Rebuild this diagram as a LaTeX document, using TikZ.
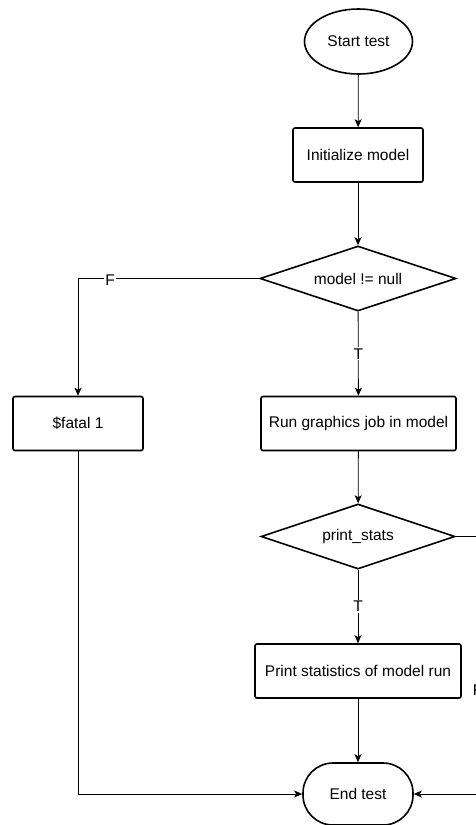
\documentclass[tikz,border=0pt]{standalone}
\usepackage{fontspec}
\setmainfont{Liberation Sans}
\usetikzlibrary{shapes.geometric,arrows.meta}
\begin{document}
\begin{tikzpicture}[x=1pt,y=-1pt,
  every node/.style={font=\fontsize{15.5}{18}\selectfont, text=black},
  procbox/.style={draw, line width=1.6pt, rounded corners=2pt, inner sep=0pt, minimum height=54pt},
  decision/.style={draw, diamond, aspect=3, line width=1.6pt, inner sep=0pt, minimum width=196pt, minimum height=65pt},
  terminal/.style={draw, ellipse, line width=1.6pt, inner sep=0pt},
  flow/.style={draw, line width=0.8pt, -{Stealth[length=8pt,width=7pt,inset=2pt]}},
  lbl/.style={fill=white, inner sep=1pt}
]
\useasboundingbox (0,0) rectangle (476,825);
\clip (0,0) rectangle (476,825);

\node[terminal, minimum width=108pt, minimum height=65pt] (start) at (358.5,41.5) {Start test};
\node[procbox, minimum width=130pt] (init) at (358,155) {Initialize model};
\node[decision] (d1) at (358,278.5) {model != null};
\node[procbox, minimum width=130pt] (fatal) at (78,423.5) {\$fatal 1};
\node[procbox, minimum width=195pt] (run) at (358.5,423.5) {Run graphics job in model};
\node[decision, minimum width=194pt] (d2) at (358,536.5) {print\_stats};
\node[procbox, minimum width=206pt] (print) at (358,671) {Print statistics of model run};
\node[draw, line width=1.6pt, rounded corners=30pt, minimum width=110pt, minimum height=62pt, inner sep=0pt] (end) at (358,794) {End test};

\coordinate (fl) at (78,278.5);
\coordinate (fr1) at (480,536.5);
\coordinate (fr2) at (480,794);
\coordinate (fbl) at (78,794);

\draw[flow] (start) -- (init);
\draw[flow] (init) -- (d1);
\draw[flow] (d1.west) -- (fl) -- (fatal.north);
\node[lbl] at (110,280) {F};
\draw[flow] (d1) -- node[lbl] {T} (run);
\draw[flow] (run) -- (d2);
\draw[flow] (d2) -- node[lbl] {T} (print);
\draw[flow] (print) -- (end);
\draw[flow] (d2.east) -- (fr1) -- (fr2) -- (end.east);
\node[lbl] at (477.5,690) {F};
\draw[flow] (fatal.south) -- (fbl) -- (end.west);
\end{tikzpicture}
\end{document}
